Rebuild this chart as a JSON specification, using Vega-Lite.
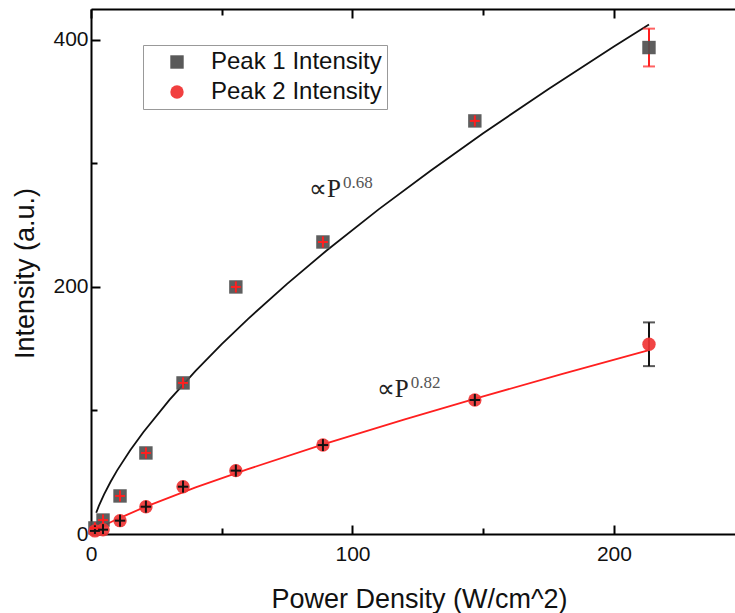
{
  "$schema": "https://vega.github.io/schema/vega-lite/v6.json",
  "width": 644,
  "height": 525,
  "autosize": {"type": "none"},
  "padding": {"left": 91, "top": 9, "right": 0, "bottom": 79},
  "background": "white",
  "config": {
    "view": {"stroke": null},
    "font": "Liberation Sans",
    "axis": {
      "domainColor": "#000000",
      "domainWidth": 2,
      "tickColor": "#000000",
      "tickWidth": 2,
      "grid": false,
      "labelFlush": false,
      "labelFont": "Liberation Sans",
      "labelFontSize": 21,
      "labelColor": "#111111",
      "titleFont": "Liberation Sans",
      "titleFontSize": 27,
      "titleFontWeight": "normal",
      "titleColor": "#111111"
    }
  },
  "datasets": {
    "points": [
      {"P": 1.5, "I": 4.9, "lo": 0.4, "hi": 9.4, "xlo": -0.4, "xhi": 3.4, "series": "Peak 1 Intensity"},
      {"P": 4.6, "I": 11.3, "lo": 6.8, "hi": 15.8, "xlo": 2.7, "xhi": 6.5, "series": "Peak 1 Intensity"},
      {"P": 11.1, "I": 30.8, "lo": 26.3, "hi": 35.3, "xlo": 9.2, "xhi": 13.0, "series": "Peak 1 Intensity"},
      {"P": 21, "I": 65.6, "lo": 61.1, "hi": 70.1, "xlo": 19.1, "xhi": 22.9, "series": "Peak 1 Intensity"},
      {"P": 35.2, "I": 122.3, "lo": 117.8, "hi": 126.8, "xlo": 33.3, "xhi": 37.1, "series": "Peak 1 Intensity"},
      {"P": 55.4, "I": 200, "lo": 195.5, "hi": 204.5, "xlo": 53.5, "xhi": 57.3, "series": "Peak 1 Intensity"},
      {"P": 88.7, "I": 236.4, "lo": 231.9, "hi": 240.9, "xlo": 86.8, "xhi": 90.6, "series": "Peak 1 Intensity"},
      {"P": 146.8, "I": 334.4, "lo": 329.9, "hi": 338.9, "xlo": 144.9, "xhi": 148.7, "series": "Peak 1 Intensity"},
      {"P": 213.4, "I": 393.8, "lo": 378.5, "hi": 409.1, "xlo": 213.4, "xhi": 213.4, "series": "Peak 1 Intensity"},
      {"P": 1.5, "I": 2.5, "lo": 0, "hi": 7.0, "xlo": -0.4, "xhi": 3.4, "series": "Peak 2 Intensity"},
      {"P": 4.6, "I": 3.5, "lo": 0, "hi": 8.0, "xlo": 2.7, "xhi": 6.5, "series": "Peak 2 Intensity"},
      {"P": 11.1, "I": 10.8, "lo": 6.0, "hi": 15.6, "xlo": 9.1, "xhi": 13.1, "series": "Peak 2 Intensity"},
      {"P": 21, "I": 22.1, "lo": 17.3, "hi": 26.9, "xlo": 19.0, "xhi": 23.0, "series": "Peak 2 Intensity"},
      {"P": 35.2, "I": 38.3, "lo": 33.5, "hi": 43.1, "xlo": 33.2, "xhi": 37.2, "series": "Peak 2 Intensity"},
      {"P": 55.4, "I": 51.3, "lo": 46.5, "hi": 56.1, "xlo": 53.4, "xhi": 57.4, "series": "Peak 2 Intensity"},
      {"P": 88.7, "I": 72, "lo": 67.2, "hi": 76.8, "xlo": 86.7, "xhi": 90.7, "series": "Peak 2 Intensity"},
      {"P": 146.8, "I": 108.5, "lo": 103.7, "hi": 113.3, "xlo": 144.8, "xhi": 148.8, "series": "Peak 2 Intensity"},
      {"P": 213.4, "I": 153.6, "lo": 135.9, "hi": 171.3, "xlo": 213.4, "xhi": 213.4, "series": "Peak 2 Intensity"}
    ],
    "fit1": [
      {"P": 2, "I": 17.2}, {"P": 3, "I": 22.7}, {"P": 5, "I": 32.1}, {"P": 7.5, "I": 42.3},
      {"P": 10, "I": 51.5}, {"P": 15, "I": 67.8}, {"P": 20, "I": 82.4}, {"P": 30, "I": 108.6},
      {"P": 40, "I": 132.1}, {"P": 50, "I": 153.7}, {"P": 60, "I": 174.0}, {"P": 75, "I": 202.5},
      {"P": 90, "I": 229.3}, {"P": 110, "I": 262.8}, {"P": 130, "I": 294.3}, {"P": 150, "I": 324.4},
      {"P": 175, "I": 360.3}, {"P": 200, "I": 394.6}, {"P": 213.4, "I": 412.4}
    ],
    "fit2": [
      {"P": 1, "I": 1.8}, {"P": 5, "I": 6.9}, {"P": 10, "I": 12.1}, {"P": 20, "I": 21.3},
      {"P": 40, "I": 37.7}, {"P": 60, "I": 52.5}, {"P": 90, "I": 73.3}, {"P": 120, "I": 92.8},
      {"P": 150, "I": 111.4}, {"P": 180, "I": 129.4}, {"P": 213.4, "I": 148.8}
    ],
    "ann": [
      {"P": 83.4, "I": 272.9, "main": "∝P", "sup": "0.68"},
      {"P": 109.3, "I": 110.7, "main": "∝P", "sup": "0.82"}
    ]
  },
  "resolve": {"axis": {"x": "independent"}},
  "layer": [
    {
      "data": {"name": "fit1"},
      "mark": {"type": "line", "color": "#111111", "strokeWidth": 1.8},
      "encoding": {
        "x": {
          "field": "P", "type": "quantitative",
          "scale": {"domain": [0, 246.3], "nice": false, "zero": false},
          "axis": {
            "orient": "bottom",
            "values": [0, 50, 100, 150, 200],
            "labelExpr": "datum.value % 100 === 0 ? datum.label : ''",
            "tickSize": {"condition": {"test": "datum.value % 100 === 0", "value": -9}, "value": -6},
            "labelPadding": 18,
            "title": "Power Density (W/cm^2)",
            "titleX": 328,
            "titleY": 73,
            "titleBaseline": "alphabetic",
            "titleAlign": "center"
          }
        },
        "y": {
          "field": "I", "type": "quantitative",
          "scale": {"domain": [0, 425], "nice": false, "zero": false},
          "axis": {
            "orient": "left",
            "values": [0, 100, 200, 300, 400],
            "labelExpr": "datum.value % 200 === 0 ? datum.label : ''",
            "tickSize": {"condition": {"test": "datum.value % 200 === 0", "value": -9}, "value": -6},
            "labelPadding": 12,
            "title": "Intensity (a.u.)",
            "titleX": -58,
            "titleY": 264,
            "titleBaseline": "alphabetic",
            "titleAlign": "center",
            "titleAngle": -90
          }
        }
      }
    },
    {
      "data": {"name": "fit2"},
      "mark": {"type": "line", "color": "#ff1f1f", "strokeWidth": 1.8},
      "encoding": {
        "x": {
          "field": "P", "type": "quantitative",
          "axis": {
            "orient": "top",
            "values": [0, 50, 100, 150, 200],
            "labels": false,
            "title": null,
            "tickSize": {"condition": {"test": "datum.value % 100 === 0", "value": -9}, "value": -6}
          }
        },
        "y": {"field": "I", "type": "quantitative"}
      }
    },
    {
      "data": {"name": "points"},
      "mark": {"type": "rule", "strokeWidth": 2},
      "encoding": {
        "x": {"field": "P", "type": "quantitative", "axis": null},
        "y": {"field": "lo", "type": "quantitative"},
        "y2": {"field": "hi"},
        "color": {
          "condition": {"test": "datum.series === 'Peak 1 Intensity'", "value": "#ff2020"},
          "value": "#111111"
        }
      }
    },
    {
      "data": {"name": "points"},
      "transform": [{"filter": "datum.hi - datum.lo > 20"}],
      "mark": {"type": "tick", "orient": "horizontal", "size": 12, "thickness": 2},
      "encoding": {
        "x": {"field": "P", "type": "quantitative", "axis": null},
        "y": {"field": "lo", "type": "quantitative"},
        "color": {
          "condition": {"test": "datum.series === 'Peak 1 Intensity'", "value": "#ff2020"},
          "value": "#111111"
        }
      }
    },
    {
      "data": {"name": "points"},
      "transform": [{"filter": "datum.hi - datum.lo > 20"}],
      "mark": {"type": "tick", "orient": "horizontal", "size": 12, "thickness": 2},
      "encoding": {
        "x": {"field": "P", "type": "quantitative", "axis": null},
        "y": {"field": "hi", "type": "quantitative"},
        "color": {
          "condition": {"test": "datum.series === 'Peak 1 Intensity'", "value": "#ff2020"},
          "value": "#111111"
        }
      }
    },
    {
      "data": {"name": "points"},
      "mark": {"type": "point", "filled": true, "size": 180, "opacity": 0.92},
      "encoding": {
        "x": {"field": "P", "type": "quantitative", "axis": null},
        "y": {"field": "I", "type": "quantitative"},
        "color": {
          "field": "series", "type": "nominal",
          "scale": {"domain": ["Peak 1 Intensity", "Peak 2 Intensity"], "range": ["#505050", "#f03535"]},
          "legend": {
            "orient": "none",
            "legendX": 52,
            "legendY": 36,
            "title": null,
            "strokeColor": "#999999",
            "fillColor": "white",
            "padding": 5,
            "symbolOffset": 17,
            "labelOffset": 22,
            "labelFont": "Liberation Sans",
            "labelFontSize": 24,
            "labelColor": "#111111",
            "labelLimit": 300,
            "symbolSize": 180,
            "symbolOpacity": 0.95,
            "rowPadding": 6
          }
        },
        "shape": {
          "field": "series", "type": "nominal",
          "scale": {"domain": ["Peak 1 Intensity", "Peak 2 Intensity"], "range": ["square", "circle"]},
          "legend": null
        }
      }
    },
    {
      "data": {"name": "points"},
      "transform": [{"filter": "datum.hi - datum.lo < 20"}],
      "mark": {"type": "rule", "strokeWidth": 2},
      "encoding": {
        "x": {"field": "P", "type": "quantitative", "axis": null},
        "y": {"field": "lo", "type": "quantitative"},
        "y2": {"field": "hi"},
        "color": {
          "condition": {"test": "datum.series === 'Peak 1 Intensity'", "value": "#ff2020"},
          "value": "#111111"
        }
      }
    },
    {
      "data": {"name": "points"},
      "transform": [{"filter": "datum.hi - datum.lo < 20"}],
      "mark": {"type": "rule", "strokeWidth": 2},
      "encoding": {
        "x": {"field": "xlo", "type": "quantitative", "axis": null},
        "x2": {"field": "xhi"},
        "y": {"field": "I", "type": "quantitative"},
        "color": {
          "condition": {"test": "datum.series === 'Peak 1 Intensity'", "value": "#ff2020"},
          "value": "#111111"
        }
      }
    },
    {
      "data": {"name": "ann"},
      "mark": {"type": "text", "font": "Liberation Serif", "fontSize": 25, "align": "left", "baseline": "alphabetic", "color": "#222222"},
      "encoding": {
        "x": {"field": "P", "type": "quantitative", "axis": null},
        "y": {"field": "I", "type": "quantitative"},
        "text": {"field": "main"}
      }
    },
    {
      "data": {"name": "ann"},
      "mark": {"type": "text", "font": "Liberation Serif", "fontSize": 17, "align": "left", "baseline": "alphabetic", "color": "#555555", "dx": 34, "dy": -9},
      "encoding": {
        "x": {"field": "P", "type": "quantitative", "axis": null},
        "y": {"field": "I", "type": "quantitative"},
        "text": {"field": "sup"}
      }
    }
  ]
}
